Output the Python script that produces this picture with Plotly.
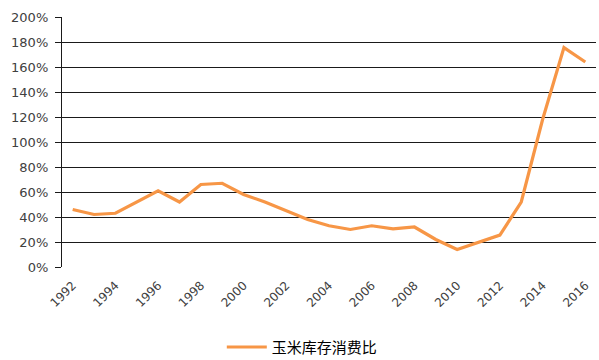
import plotly.graph_objects as go

years = [str(y) for y in range(1992, 2017)]
ratio = [46, 42, 43, 52, 61, 52, 66, 67, 58, 52, 45, 38, 33, 30, 33, 30.5, 32,
         22, 14, 20, 25.5, 52, 118, 175.5, 164]
tick_years = [str(y) for y in range(1992, 2017, 2)]
y_ticks = list(range(0, 201, 20))
y_labels = [f"{v}%" for v in y_ticks]
series_name = "玉米库存消费比"

font_family = "Tahoma, 'DejaVu Sans', 'Noto Sans CJK SC', sans-serif"

fig = go.Figure()
fig.add_trace(go.Scatter(
    x=years, y=ratio, mode="lines", name=series_name,
    line=dict(color="#F79646", width=3.2),
))

fig.update_layout(
    width=599, height=360,
    margin=dict(l=62, r=3, t=17, b=93, autoexpand=False),
    paper_bgcolor="white", plot_bgcolor="white",
    font=dict(family=font_family, size=12, color="#404040"),
    showlegend=True,
    legend=dict(orientation="h", x=0.45, xanchor="center", y=-0.255, yanchor="top",
                font=dict(family="'Noto Sans CJK SC', sans-serif", size=15, color="#000000"),
                itemwidth=40),
)
fig.update_xaxes(
    type="category", categoryorder="array", categoryarray=years,
    range=[-0.5, len(years) - 0.5], automargin=False,
    tickmode="array", tickvals=tick_years, ticktext=tick_years,
    tickangle=-45, showgrid=False, showline=False, ticks="",
    ticklabelstandoff=8,
    tickfont=dict(size=12, color="#404040"),
)
fig.update_yaxes(
    range=[0, 200], tickvals=y_ticks, ticktext=y_labels, automargin=False,
    showgrid=True, gridcolor="#1a1a1a", gridwidth=1.2,
    showline=True, linecolor="#1a1a1a", linewidth=1.3,
    ticks="outside", ticklen=6, tickcolor="#1a1a1a", tickwidth=1.2,
    zeroline=False, ticklabelstandoff=4,
    tickfont=dict(size=13, color="#404040"),
)

fig.write_html("out.html", config={"displayModeBar": False},
               post_script="document.body.style.margin='0';")
